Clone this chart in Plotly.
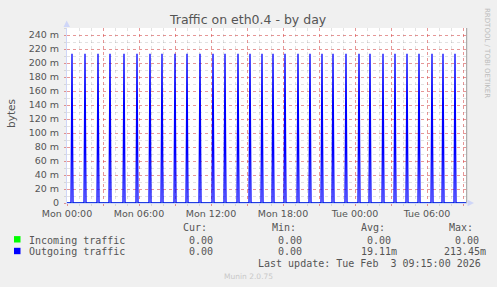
import plotly.graph_objects as go
from datetime import datetime, timedelta

# ---------------- data ----------------
spike_times = [
    "2026-02-02 00:25", "2026-02-02 01:30", "2026-02-02 02:35", "2026-02-02 03:35",
    "2026-02-02 04:45", "2026-02-02 05:50", "2026-02-02 06:55", "2026-02-02 07:55",
    "2026-02-02 09:00", "2026-02-02 10:00", "2026-02-02 11:05", "2026-02-02 12:10",
    "2026-02-02 13:10", "2026-02-02 14:15", "2026-02-02 15:15", "2026-02-02 16:15",
    "2026-02-02 17:10", "2026-02-02 18:10", "2026-02-02 19:15", "2026-02-02 20:15",
    "2026-02-02 21:15", "2026-02-02 22:10", "2026-02-02 23:15", "2026-02-03 00:20",
    "2026-02-03 01:15", "2026-02-03 02:20", "2026-02-03 03:20", "2026-02-03 04:20",
    "2026-02-03 05:20", "2026-02-03 06:25", "2026-02-03 07:20", "2026-02-03 08:20",
]
spike_peak = 0.21345  # bytes (213.45 m)
baseline = 0.0
series_start = "2026-02-02 00:00"
series_end = "2026-02-03 09:15"

x_range = ["2026-02-02 00:00", "2026-02-03 09:20"]

xtick_vals = ["2026-02-02 00:00", "2026-02-02 03:00", "2026-02-02 06:00", "2026-02-02 09:00",
              "2026-02-02 12:00", "2026-02-02 15:00", "2026-02-02 18:00", "2026-02-02 21:00",
              "2026-02-03 00:00", "2026-02-03 03:00", "2026-02-03 06:00", "2026-02-03 09:00"]
xtick_text = ["Mon 00:00", "", "Mon 06:00", "", "Mon 12:00", "", "Mon 18:00", "",
              "Tue 00:00", "", "Tue 06:00", ""]

ytick_vals = [0, 0.02, 0.04, 0.06, 0.08, 0.10, 0.12, 0.14, 0.16, 0.18, 0.20, 0.22, 0.24]
ytick_text = ["0", "20 m", "40 m", "60 m", "80 m", "100 m", "120 m", "140 m",
              "160 m", "180 m", "200 m", "220 m", "240 m"]

legend_names = ["Incoming traffic", "Outgoing traffic"]
legend_colors = ["#00FF00", "#0000FF"]
stat_headers = ["Cur:", "Min:", "Avg:", "Max:"]
stats_in = ["0.00", "0.00", "0.00", "0.00"]
stats_out = ["0.00", "0.00", "19.11m", "213.45m"]
last_update = "Last update: Tue Feb  3 09:15:00 2026"

# ------------- build series -------------
fmt = "%Y-%m-%d %H:%M"
step = timedelta(minutes=5)
out_x = [datetime.strptime(series_start, fmt)]
out_y = [baseline]
for t in spike_times:
    tt = datetime.strptime(t, fmt)
    out_x += [tt - step, tt, tt + step]
    out_y += [baseline, spike_peak, baseline]
out_x.append(datetime.strptime(series_end, fmt))
out_y.append(baseline)
in_x = [datetime.strptime(series_start, fmt), datetime.strptime(series_end, fmt)]
in_y = [baseline, baseline]

# ------------- figure -------------
W, H = 497, 287
L, R, T, B = 67, 467, 28, 203  # plot area pixel box


def px(x):
    return (x - L) / (R - L)


def py(y):
    return (B - y) / (B - T)


fig = go.Figure()
fig.add_trace(go.Scatter(x=in_x, y=in_y, mode="lines", name=legend_names[0],
                         line=dict(color=legend_colors[0], width=1), hoverinfo="skip"))
fig.add_trace(go.Scatter(x=out_x, y=out_y, mode="lines", name=legend_names[1],
                         line=dict(color=legend_colors[1], width=1.3), hoverinfo="skip"))

font_main = "DejaVu Sans"
font_mono = "DejaVu Sans Mono"
txt = "#555555"
major_grid = "rgba(235,60,60,0.45)"
minor_grid = "rgba(110,110,110,0.2)"

fig.update_layout(
    width=W, height=H,
    margin=dict(l=L, r=W - R, t=T, b=H - B, pad=0),
    paper_bgcolor="#F0F0F0",
    plot_bgcolor="#FFFFFF",
    showlegend=False,
    font=dict(family=font_main, size=9.5, color=txt),
)

fig.update_xaxes(
    type="date", range=x_range,
    tickmode="array", tickvals=xtick_vals, ticktext=xtick_text,
    showgrid=True, gridcolor=major_grid, griddash="dot", gridwidth=1,
    ticks="outside", ticklen=2, tickcolor=major_grid,
    tickfont=dict(family=font_main, size=9.5, color=txt),
    showline=True, linecolor="#CFD6F8", linewidth=1,
    zeroline=False, layer="below traces",
    minor=dict(tickmode="linear", tick0="2026-02-02 00:00", dtick=3600000,
               showgrid=True, gridcolor=minor_grid, griddash="dot",
               ticks="outside", ticklen=2, tickcolor=minor_grid),
)
fig.update_yaxes(
    range=[0, 0.2502],
    tickmode="array", tickvals=ytick_vals, ticktext=ytick_text,
    showgrid=True, gridcolor=major_grid, griddash="dot", gridwidth=1,
    ticks="outside", ticklen=2, tickcolor=major_grid,
    tickfont=dict(family=font_main, size=9.5, color=txt),
    ticklabelstandoff=3,
    showline=True, linecolor="#CFD6F8", linewidth=1,
    zeroline=False, layer="below traces",
    minor=dict(tickmode="linear", tick0=0, dtick=0.01,
               showgrid=True, gridcolor=minor_grid, griddash="dot",
               ticks="outside", ticklen=2, tickcolor=minor_grid),
)

ann = []


def add_text(text, x, y, size, color=txt, family=font_main, xanchor="left", angle=0):
    ann.append(dict(text=text, x=px(x), y=py(y), xref="paper", yref="paper",
                    showarrow=False, xanchor=xanchor, yanchor="middle",
                    textangle=angle, font=dict(family=family, size=size, color=color)))


# title
add_text("Traffic on eth0.4 - by day", 248, 19, 12.5, xanchor="center")
# y axis label
add_text("bytes", 11, 113, 10.5, angle=-90, xanchor="center")
# side credit
add_text("RRDTOOL / TOBI OETIKER", 487, 53, 7, color="#BBBBBB", angle=90, xanchor="center")

# legend table
col_hdr_x = [181, 269.7, 358.7, 446.7]
col_val_in_x = [187, 275.7, 364.7, 453.3]
col_val_out_x = [187, 275.7, 358.7, 441.7]
for h, xx in zip(stat_headers, col_hdr_x):
    add_text(h, xx, 227.5, 10, family=font_mono)
add_text(legend_names[0], 26.5, 240, 10, family=font_mono)
add_text(legend_names[1], 26.5, 251.7, 10, family=font_mono)
for v, xx in zip(stats_in, col_val_in_x):
    add_text(v, xx, 240, 10, family=font_mono)
for v, xx in zip(stats_out, col_val_out_x):
    add_text(v, xx, 251.7, 10, family=font_mono)
add_text(last_update, 483, 263.5, 10, family=font_mono, xanchor="right")
add_text("Munin 2.0.75", 248, 276.3, 7.5, color="#C8C8C8", xanchor="center")

fig.update_layout(annotations=ann)

shapes = []
# legend colour squares
for c, yc in zip(legend_colors, [239.3, 251]):
    shapes.append(dict(type="rect", xref="paper", yref="paper",
                       x0=px(14), x1=px(20.5), y0=py(yc - 3.2), y1=py(yc + 3.2),
                       fillcolor=c, line=dict(width=0)))
# right frame line
shapes.append(dict(type="line", xref="paper", yref="paper",
                   x0=px(466.7), x1=px(466.7), y0=py(28), y1=py(203),
                   line=dict(color="#9A9A9A", width=1)))
# axis arrows
shapes.append(dict(type="path", xref="paper", yref="paper",
                   path="M {} {} L {} {} L {} {} Z".format(px(63.5), py(27), px(70), py(27), px(66.7), py(20.5)),
                   fillcolor="#CFD6F8", line=dict(width=0)))
shapes.append(dict(type="path", xref="paper", yref="paper",
                   path="M {} {} L {} {} L {} {} Z".format(px(467.5), py(199.7), px(467.5), py(206.3), px(474), py(203)),
                   fillcolor="#CFD6F8", line=dict(width=0)))
fig.update_layout(shapes=shapes)

fig.write_html("out.html")
